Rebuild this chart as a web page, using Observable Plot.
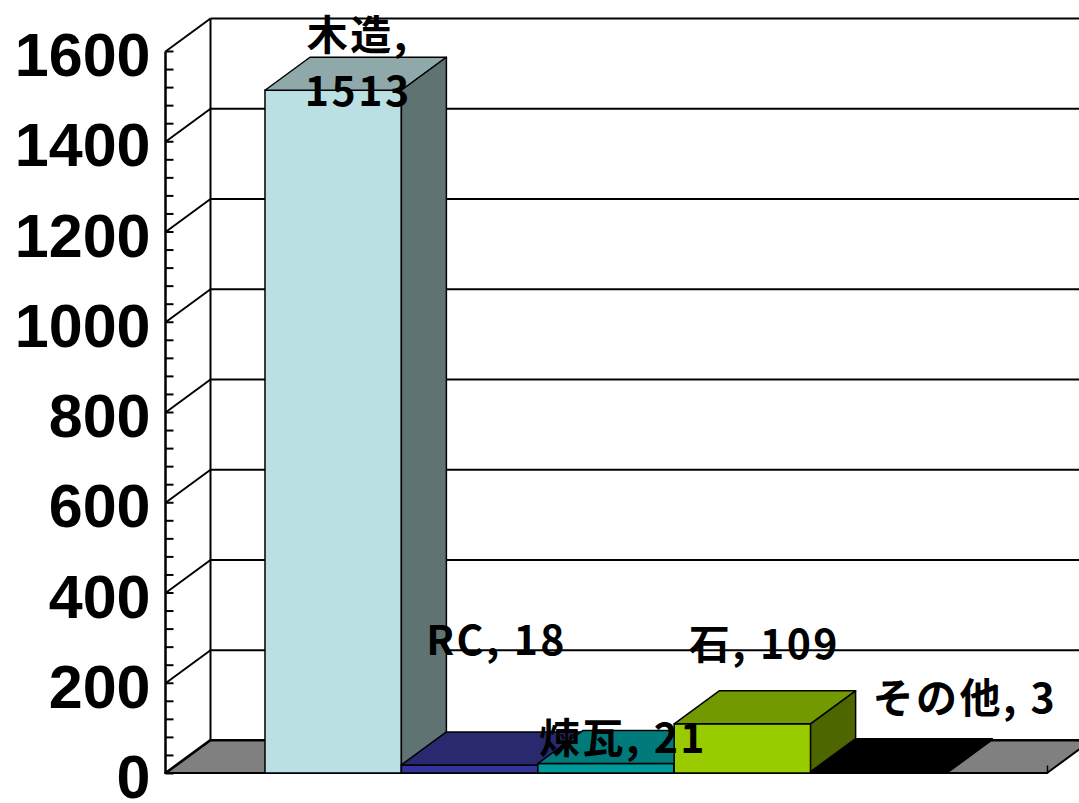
<!DOCTYPE html>
<html><head><meta charset="utf-8">
<script src="https://cdn.jsdelivr.net/npm/d3@7"></script>
<script src="https://cdn.jsdelivr.net/npm/@observablehq/plot@0.6"></script>
<style>
body{margin:0;background:#fff;}
#chart svg{display:block;}
g[aria-label="text"] text{letter-spacing:2.5px;}
</style>
</head><body><div id="chart"></div>
<script>
// ---- data ----
const categories = ["木造", "RC", "煉瓦", "石", "その他"];
const values = [1513, 18, 21, 109, 3];
const yTicks = [0, 200, 400, 600, 800, 1000, 1200, 1400, 1600];
const minorTickStep = 40;

// ---- styles ----
const frontColors = ["#BBE0E3", "#333399", "#009999", "#99CC00", "#000000"];
const topColors   = ["#8FA9AA", "#29296F", "#007A7A", "#739900", "#000000"];
const sideColors  = ["#5F7373", "#1C1C50", "#004D4D", "#4D6600", "#000000"];
const floorColor = "#808080";

// ---- layout ----
const W = 1079, H = 803, mL = 165, mR = 32, mT = 51, mB = 30;
const gap = 0.733;                       // side gap, in bar widths
const xDomain = [-gap, categories.length + gap];
const yDomain = [0, 1600];
const pxPerX = (W - mL - mR) / (xDomain[1] - xDomain[0]);
const pxPerY = (H - mT - mB) / (yDomain[1] - yDomain[0]);
const dX = 45 / pxPerX, dY = 33 / pxPerY;   // 3D depth
const xmin = xDomain[0], xmax = xDomain[1];
// label nudges (px) relative to centre of each bar's top face
const labelNudge = [[2, -14], [4, -112], [-6, -12], [-1, -67], [63, -60]];

const bars = categories.map((c, i) => ({c, v: values[i], i}));

const marks = [];
// floor
marks.push(Plot.areaX([{y: 0, x1: xmin, x2: xmax}, {y: dY, x1: xmin + dX, x2: xmax + dX}],
  {y: "y", x1: "x1", x2: "x2", fill: floorColor, stroke: "black", strokeWidth: 2}));
// back wall gridlines
marks.push(Plot.link(yTicks, {x1: () => xmin + dX, x2: () => xmax + dX + 1, y1: d => d + dY, y2: d => d + dY, stroke: "black", strokeWidth: 2}));
// side wall diagonals
marks.push(Plot.link(yTicks, {x1: () => xmin, x2: () => xmin + dX, y1: d => d, y2: d => d + dY, stroke: "black", strokeWidth: 2}));
// back wall vertical edge
marks.push(Plot.link([0], {x1: () => xmin + dX, x2: () => xmin + dX, y1: () => dY, y2: () => yDomain[1] + dY, stroke: "black", strokeWidth: 2}));
// value axis line + minor ticks
marks.push(Plot.link([0], {x1: () => xmin, x2: () => xmin, y1: () => 0, y2: () => yDomain[1], stroke: "black", strokeWidth: 2.5}));
marks.push(Plot.link(d3.range(yDomain[0], yDomain[1] + 1, minorTickStep),
  {x1: () => xmin, x2: () => xmin + 8 / pxPerX, y1: d => d, y2: d => d, stroke: "black", strokeWidth: 2}));
// category axis end tick
marks.push(Plot.link([0], {x1: () => xmax, x2: () => xmax, y1: () => 0, y2: () => 8 / pxPerY, stroke: "black", strokeWidth: 1.5}));

// bars, drawn left to right
bars.forEach(b => {
  const {i, v} = b;
  marks.push(Plot.rect([b], {x1: () => i, x2: () => i + 1, y1: () => 0, y2: d => d.v,
    fill: frontColors[i], stroke: "black", strokeWidth: 1.5}));
  marks.push(Plot.areaX([{y: v, x1: i, x2: i + 1}, {y: v + dY, x1: i + dX, x2: i + 1 + dX}],
    {y: "y", x1: "x1", x2: "x2", fill: topColors[i], stroke: "black", strokeWidth: 1.5}));
  marks.push(Plot.areaY([{x: i + 1, y1: 0, y2: v}, {x: i + 1 + dX, y1: dY, y2: v + dY}],
    {x: "x", y1: "y1", y2: "y2", fill: sideColors[i], stroke: "black", strokeWidth: 1.5}));
});

// data labels
marks.push(Plot.text(bars, {
  x: d => d.i + 0.5 + dX / 2 + labelNudge[d.i][0] / pxPerX,
  y: d => d.v + dY / 2 - labelNudge[d.i][1] / pxPerY,
  text: d => d.i === 0 ? `${d.c},\n${d.v}` : `${d.c}, ${d.v}`,
  lineHeight: 1.35,
  fontSize: 41, fontWeight: "bold", fontFamily: "Noto Sans CJK JP",
  fill: "black"
}));

// value axis labels
marks.push(Plot.axisY({
  ticks: yTicks, tickSize: 0, tickPadding: 15, tickFormat: d => `${d}`,
  fontSize: 61, fontWeight: "bold", fontFamily: "Liberation Sans", label: null, dy: 5
}));

const chart = Plot.plot({
  width: W, height: H,
  marginLeft: mL, marginRight: mR, marginTop: mT, marginBottom: mB,
  x: {domain: xDomain, axis: null},
  y: {domain: yDomain},
  style: {background: "white", color: "black", overflow: "hidden"},
  marks
});
document.getElementById("chart").append(chart);
</script>
</body></html>
